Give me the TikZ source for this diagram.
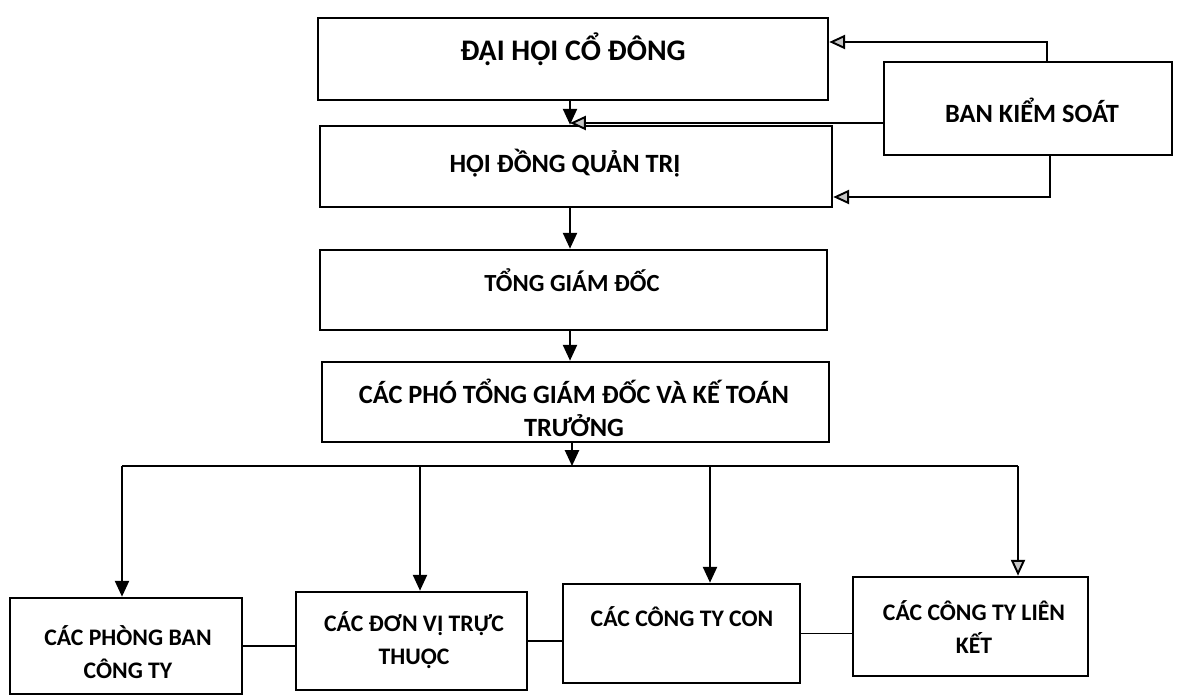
\documentclass[tikz,border=0pt]{standalone}
\usepackage{fontspec}
\setmainfont{Carlito}
\usetikzlibrary{arrows.meta,calc}

\tikzset{
  box/.style={draw, rectangle, line width=1.5pt, inner sep=0pt},
  lbl/.style={font=\bfseries\fontsize{15}{19}\selectfont, align=center, inner sep=0pt},
  small lbl/.style={lbl, font=\bfseries\fontsize{13.5}{19}\selectfont},
  conn/.style={line width=1.1pt},
  arr/.style={conn, -{Triangle[length=9pt,width=8pt]}},
  garr/.style={conn, -{Triangle[length=9pt,width=8pt,fill=gray!45]}},
}

\begin{document}
\begin{tikzpicture}[x=0.02cm, y=-0.02cm]
  \useasboundingbox (0,0) rectangle (1194,696);
  % boxes
  \node[box, minimum width=10.2cm, minimum height=1.64cm] (dhcd) at (573,59) {};
  \node[box, minimum width=5.76cm, minimum height=1.86cm] (bks) at (1028,108.5) {};
  \node[box, minimum width=10.24cm, minimum height=1.62cm] (hdqt) at (576,166.5) {};
  \node[box, minimum width=10.14cm, minimum height=1.6cm] (tgd) at (573.5,290) {};
  \node[box, minimum width=10.14cm, minimum height=1.6cm] (ptgd) at (575.5,402) {};
  \node[box, minimum width=4.64cm, minimum height=1.92cm] (b1) at (126,646) {};
  \node[box, minimum width=4.62cm, minimum height=1.96cm] (b2) at (411.5,641) {};
  \node[box, minimum width=4.74cm, minimum height=1.98cm] (b3) at (681.5,633.5) {};
  \node[box, minimum width=4.7cm, minimum height=1.98cm] (b4) at (970.5,626.5) {};
  % texts
  \node[lbl, font=\bfseries\fontsize{17}{20}\selectfont] (tdhcd) at (573,49) {ĐẠI HỘI CỔ ĐÔNG};
  \node[lbl] (tbks) at (1032,110) {BAN KIỂM SOÁT};
  \node[lbl] (thdqt) at (565,163) {HỘI ĐỒNG QUẢN TRỊ};
  \node[lbl, font=\bfseries\fontsize{14}{18}\selectfont] (ttgd) at (572,280) {TỔNG GIÁM ĐỐC};
  \node[lbl] (tptgd) at (574,408) {CÁC PHÓ TỔNG GIÁM ĐỐC VÀ KẾ TOÁN\\TRƯỞNG};
  \node[small lbl] (tb1) at (128,652) {CÁC PHÒNG BAN\\CÔNG TY};
  \node[small lbl] (tb2) at (414,640) {CÁC ĐƠN VỊ TRỰC\\THUỘC};
  \node[small lbl] (tb3) at (682,617) {CÁC CÔNG TY CON};
  \node[small lbl] (tb4) at (974,627) {CÁC CÔNG TY LIÊN\\KẾT};
  % main column
  \coordinate (ax) at (570,0);
  \coordinate (jn) at (570,123);
  \draw[arr] (dhcd.south -| ax) -- (hdqt.north -| ax);
  \draw[arr] (hdqt.south -| ax) -- (tgd.north -| ax);
  \draw[arr] (tgd.south -| ax) -- (ptgd.north -| ax);
  % ban kiem soat
  \coordinate (kt) at (1047,42);
  \coordinate (kb) at (1050,197);
  \draw[garr] (bks.west |- jn) -- (jn);
  \draw[garr] (bks.north -| kt) -- (kt) -- (dhcd.east |- kt);
  \draw[garr] (bks.south -| kb) -- (kb) -- (hdqt.east |- kb);
  % bus to the bottom row
  \coordinate (bus) at (572,466);
  \coordinate (d1) at (122,466);
  \coordinate (d2) at (420,466);
  \coordinate (d3) at (710,466);
  \coordinate (d4) at (1018,466);
  \draw[arr] (ptgd.south -| bus) -- (bus);
  \draw[conn] (d1) -- (d4);
  \draw[arr] (d1) -- (d1 |- b1.north);
  \draw[arr] (d2) -- (d2 |- b2.north);
  \draw[arr] (d3) -- (d3 |- b3.north);
  \draw[garr] (d4) -- (d4 |- b4.north);
  \draw[conn] (b1.east) -- (b1.east -| b2.west);
  \draw[conn] (b2.east) -- (b2.east -| b3.west);
  \draw[conn] (b3.east) -- (b3.east -| b4.west);
\end{tikzpicture}
\end{document}
